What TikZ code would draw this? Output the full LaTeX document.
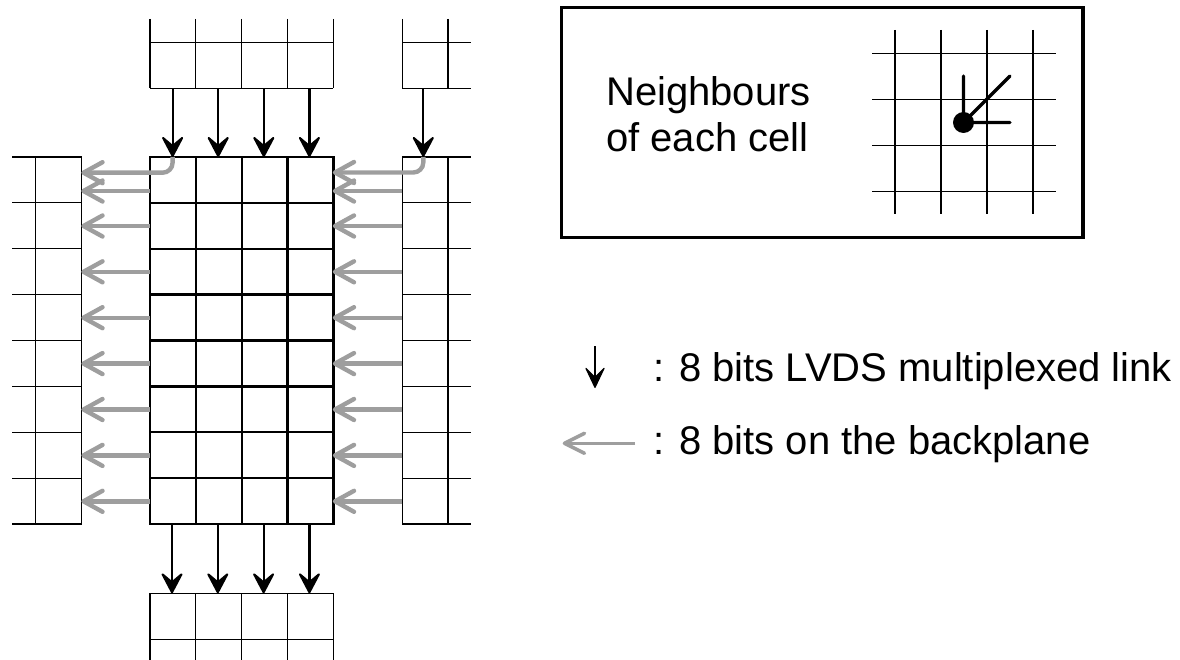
\documentclass[tikz,border=0pt]{standalone}
\usepackage{fontspec}
\setmainfont{Liberation Sans}
\definecolor{arrgray}{RGB}{158,158,158}
\tikzset{
  cellgrid/.style={line width=1.2pt, black},
  maingrid/.style={line width=2.3pt, black, line cap=rect},
  linkline/.style={line width=2.2pt, black},
  linkhead/.style={fill=black, draw=black, line width=2pt, line join=round},
  busline/.style={arrgray, line width=4.4pt},
  barb/.style={arrgray, line width=4.4pt, line cap=round, line join=round}
  ,lbl/.style={anchor=base west, inner sep=0pt, font=\fontsize{40}{46}\selectfont}
}
% black chevron head pointing down, tip at coordinate #1
\newcommand\downhead[1]{\filldraw[linkhead] (#1) ++(0,-1) -- ++(-9.5,-18) -- ++(9.5,8) -- ++(9.5,-8) -- cycle;}
% gray barb head pointing left, tip at coordinate #1
\newcommand\lefthead[1]{\draw[barb] (#1) ++(19,-10.5) -- (#1) -- ++(19,10.5);}
\begin{document}
\begin{tikzpicture}[x=1pt,y=-1pt]
\useasboundingbox (0,0) rectangle (1180,660);
\def\cw{45.85}
\def\rh{45.875}
% ---------- central grid
\foreach \i in {0,...,4} \draw[maingrid] ({150+\i*\cw},157) -- ({150+\i*\cw},524);
\foreach \j in {0,...,8} \draw[maingrid] (150,{157+\j*\rh}) -- (333.4,{157+\j*\rh});
% ---------- top grid
\foreach \i in {0,...,4} \draw[cellgrid] ({150+\i*\cw},19) -- ({150+\i*\cw},88.3);
\foreach \y in {42.3,88.3} \draw[cellgrid] (150,\y) -- (333.4,\y);
% ---------- top right grid
\foreach \x in {402.3,448} \draw[cellgrid] (\x,19) -- (\x,88.3);
\foreach \y in {42.3,88.3} \draw[cellgrid] (402.3,\y) -- (471,\y);
% ---------- right grid
\foreach \x in {402.3,448} \draw[cellgrid] (\x,157) -- (\x,524);
\foreach \j in {0,...,8} \draw[cellgrid] (402.3,{157+\j*\rh}) -- (471,{157+\j*\rh});
% ---------- left grid
\foreach \x in {35.7,81.7} \draw[cellgrid] (\x,157) -- (\x,524);
\foreach \j in {0,...,8} \draw[cellgrid] (12.3,{157+\j*\rh}) -- (81.7,{157+\j*\rh});
% ---------- bottom grid
\foreach \i in {0,...,4} \draw[cellgrid] ({150+\i*\cw},593.3) -- ({150+\i*\cw},662);
\foreach \y in {593.3,639.3} \draw[cellgrid] (150,\y) -- (333.4,\y);
% ---------- gray backplane arrows
\foreach \y [count=\k] in {191,226,271.8,317.7,363.6,409.5,455.4,501.3} {
  \coordinate (lg\k) at (150,\y);
  \coordinate (lt\k) at (83.5,\y);
  \draw[busline] (lg\k) -- (lt\k);
  \lefthead{lt\k}
  \coordinate (rg\k) at (402.3,\y);
  \coordinate (rt\k) at (335,\y);
  \draw[busline] (rg\k) -- (rt\k);
  \lefthead{rt\k}
}
\coordinate (te0c) at (172.6,157);
\coordinate (lc) at (83.5,172.7);
\draw[busline, rounded corners=10pt] (te0c) |- (lc);
\lefthead{lc}
\coordinate (trc) at (423.3,157);
\coordinate (rc) at (335,172.5);
\draw[busline, rounded corners=10pt] (trc) |- (rc);
\lefthead{rc}
% ---------- black LVDS links
\foreach \i in {0,...,3} {
  \coordinate (ts\i) at ({172.6+\i*45.6},88.3);
  \coordinate (te\i) at ({172.6+\i*45.6},157);
  \draw[linkline] (ts\i) -- ++(0,60);
  \downhead{te\i}
  \coordinate (bs\i) at ({172+\i*45.8},524);
  \coordinate (be\i) at ({172+\i*45.8},593.3);
  \draw[linkline] (bs\i) -- ++(0,60);
  \downhead{be\i}
}
\coordinate (trs) at (423.3,88.3);
\coordinate (tre) at (423.3,157);
\draw[linkline] (trs) -- ++(0,60);
\downhead{tre}
% ---------- neighbours box
\draw[line width=3.4pt] (561.7,7.3) rectangle (1083,237.3);
\foreach \x in {895,941,987,1033} \draw[cellgrid] (\x,30) -- (\x,214.3);
\foreach \y in {53.3,99.3,145.7,191.7} \draw[cellgrid] (872,\y) -- (1055.7,\y);
\coordinate (cc) at (963.5,122.5);
\coordinate (nu) at (963.5,76);
\coordinate (nr) at (1010,122.5);
\coordinate (nd) at (1010,76);
\draw[line width=3.4pt, line cap=round] (cc) -- (nu) (cc) -- (nr) (cc) -- (nd);
\fill (cc) circle (10.5pt);
\node[lbl] (nb1) at (606,106) {Neighbours};
\node[lbl] (nb2) at (606,152) {of each cell};
% ---------- legend
\coordinate (la1) at (595,346);
\coordinate (la2) at (595,388);
\draw[line width=1.7pt] (la1) -- ++(0,32);
\filldraw[fill=black, line width=1.2pt, line join=round] (la2) ++(0,-0.6) -- ++(-9,-19) -- ++(9,9) -- ++(9,-9) -- cycle;
\node[lbl] (lt1) at (653,381) {: 8 bits LVDS multiplexed link};
\coordinate (lb1) at (635,443.3);
\coordinate (lb2) at (564.5,443.3);
\draw[arrgray, line width=3.6pt] (lb1) -- (lb2);
\draw[arrgray, line width=3.6pt, line cap=round, line join=round] (lb2) ++(20,-10) -- (lb2) -- ++(20,10);
\node[lbl] (lt2) at (653,454) {: 8 bits on the backplane};
\end{tikzpicture}
\end{document}
